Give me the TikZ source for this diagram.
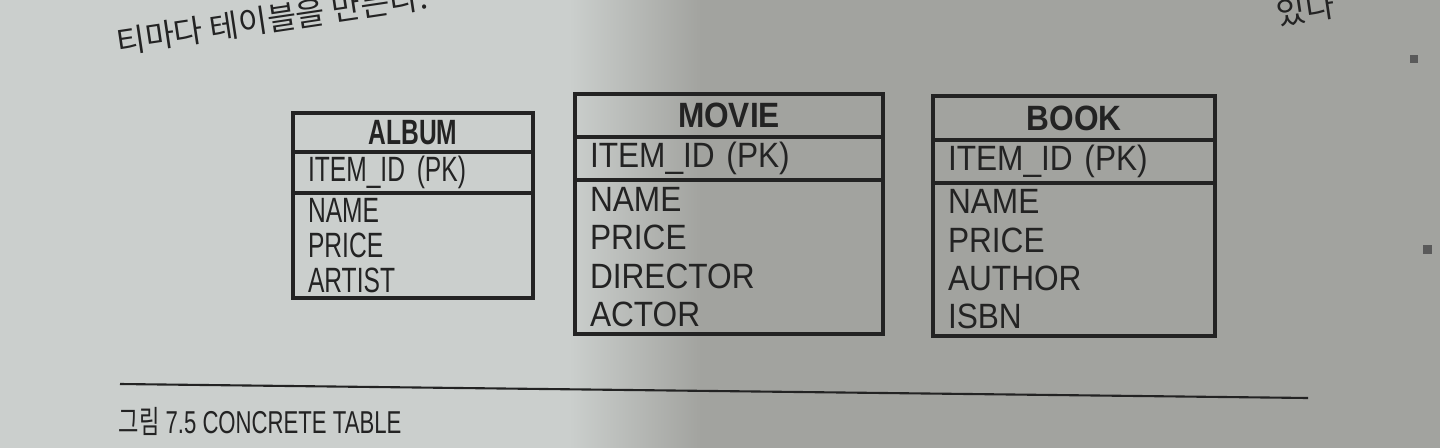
\documentclass[tikz,border=0pt]{standalone}
\usepackage{fontspec}
\usetikzlibrary{positioning}
\newfontfamily\tabfont{Liberation Sans}[FakeStretch=0.9]
\newfontfamily\narrowfont{Liberation Sans}[FakeStretch=0.7]
\newfontfamily\kofont{Noto Sans CJK KR}[FakeStretch=0.7]
\newfontfamily\kobody{Noto Sans CJK KR}
\definecolor{paper}{HTML}{CBCFCD}
\definecolor{shadow}{HTML}{A2A39F}
\definecolor{ink}{HTML}{232323}

\begin{document}
\begin{tikzpicture}[
    cell/.style={draw=ink, line width=1pt, outer sep=0pt, inner xsep=0.15cm, inner ysep=0pt, text=ink},
    smalltab/.style={font=\narrowfont\fontsize{10}{9.9}\selectfont, align=left},
    bigtab/.style={font=\tabfont\fontsize{10}{10.9}\selectfont, align=left},
    lead/.style={rotate=8.5, anchor=base west, text=ink, font=\kobody\fontsize{9}{10}\selectfont}
  ]
  \useasboundingbox (0,0) rectangle (14.40,-4.47);
  \clip (0,0) rectangle (14.40,-4.47);

  % page
  \fill[paper] (-0.1,0.1) rectangle (5.7,-4.6);
  \shade[left color=paper, right color=shadow] (5.69,0.1) rectangle (7.01,-4.6);
  \fill[shadow] (7.0,0.1) rectangle (14.5,-4.6);

  \node[lead] (leadtext) at (1.06,-0.56) {티마다 테이블을 만든다.};
  \node[lead] (leadend) at (12.66,-0.27) {있다};

  % album
  \begin{scope}[smalltab, text width=2.10cm]
    \node[cell, align=center, minimum height=0.39cm] (album) at (4.13,-1.325) {\bfseries ALBUM};
    \node[cell, minimum height=0.41cm, below=0pt of album] (albumpk) {ITEM\_ID (PK)};
    \node[cell, minimum height=1.05cm, below=0pt of albumpk] (albumcols) {NAME\\PRICE\\ARTIST};
  \end{scope}

  % movie
  \begin{scope}[bigtab, text width=2.78cm]
    \node[cell, align=center, minimum height=0.43cm] (movie) at (7.29,-1.155) {\bfseries MOVIE};
    \node[cell, minimum height=0.43cm, below=0pt of movie] (moviepk) {ITEM\_ID (PK)};
    \node[cell, minimum height=1.54cm, below=0pt of moviepk] (moviecols) {NAME\\PRICE\\DIRECTOR\\ACTOR};
  \end{scope}

  % book
  \begin{scope}[bigtab, text width=2.52cm]
    \node[cell, align=center, minimum height=0.44cm] (book) at (10.74,-1.18) {\bfseries BOOK};
    \node[cell, minimum height=0.43cm, below=0pt of book] (bookpk) {ITEM\_ID (PK)};
    \node[cell, minimum height=1.53cm, below=0pt of bookpk] (bookcols) {NAME\\PRICE\\AUTHOR\\ISBN};
  \end{scope}

  % caption
  \coordinate (ruleL) at (1.20,-3.84);
  \coordinate (ruleR) at (13.08,-3.98);
  \draw[ink, line width=0.6pt] (ruleL) -- (ruleR);
  \node[anchor=base west, inner sep=0pt, text=ink, font=\narrowfont\fontsize{9}{10}\selectfont] (caption) at (1.18,-4.33) {{\kofont 그림} 7.5 CONCRETE TABLE};

  \fill[ink!75] (14.10,-0.55) rectangle (14.18,-0.63);
  \fill[ink!75] (14.23,-2.45) rectangle (14.32,-2.54);
\end{tikzpicture}
\end{document}
